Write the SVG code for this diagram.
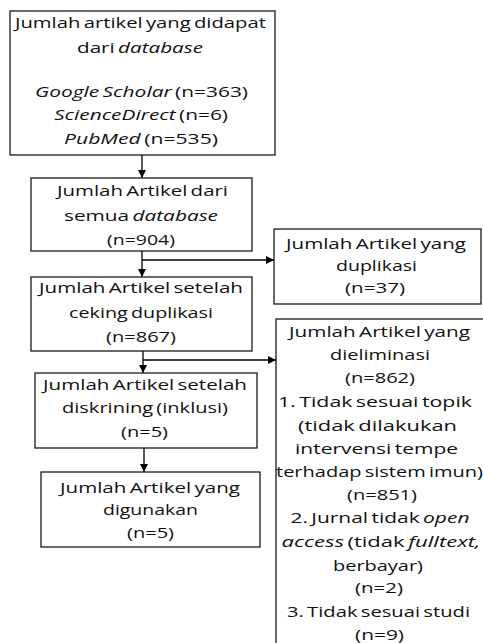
<svg xmlns="http://www.w3.org/2000/svg" width="483" height="643" viewBox="0 0 483 643">
<defs>
<marker id="ah" viewBox="0 0 10 10" refX="10" refY="5" markerWidth="8" markerHeight="8" markerUnits="userSpaceOnUse" orient="auto">
<path d="M0,0 L10,5 L0,10 z" fill="#000"/>
</marker>
</defs>
<style>
.box{fill:#fff;stroke:#1a1a1a;stroke-width:1.3}
.t{font-family:"Open Sans","DejaVu Sans",sans-serif;font-size:15px;fill:#111;text-anchor:middle;word-spacing:-1.5px}
.i{font-style:italic}
.ln{stroke:#000;stroke-width:1.3;fill:none}
</style>
<rect width="483" height="643" fill="#fff"/>
<g id="connectors">
<line class="ln" x1="142" y1="155" x2="142" y2="178" marker-end="url(#ah)"/>
<line class="ln" x1="142" y1="251" x2="142" y2="277" marker-end="url(#ah)"/>
<line class="ln" x1="142" y1="260" x2="274" y2="260" marker-end="url(#ah)"/>
<line class="ln" x1="143" y1="351" x2="143" y2="373" marker-end="url(#ah)"/>
<line class="ln" x1="143" y1="360" x2="276" y2="360" marker-end="url(#ah)"/>
<line class="ln" x1="144" y1="448" x2="144" y2="472" marker-end="url(#ah)"/>
</g>
<g id="node-database">
<rect class="box" x="10" y="11" width="265" height="144"/>
<text class="t" x="140.5" y="28" textLength="251" lengthAdjust="spacingAndGlyphs">Jumlah artikel yang didapat</text>
<text class="t" x="140" y="53" textLength="126" lengthAdjust="spacingAndGlyphs">dari <tspan class="i">database</tspan></text>
<text class="t" x="141.5" y="97" textLength="213" lengthAdjust="spacingAndGlyphs"><tspan class="i">Google Scholar</tspan> (n=363)</text>
<text class="t" x="141" y="120" textLength="174" lengthAdjust="spacingAndGlyphs"><tspan class="i">ScienceDirect</tspan>  (n=6)</text>
<text class="t" x="141" y="144" textLength="154" lengthAdjust="spacingAndGlyphs"><tspan class="i">PubMed</tspan> (n=535)</text>
</g>
<g id="node-semua">
<rect class="box" x="31" y="178" width="221" height="73"/>
<text class="t" x="142.5" y="196" textLength="171" lengthAdjust="spacingAndGlyphs">Jumlah Artikel dari</text>
<text class="t" x="141" y="221" textLength="154" lengthAdjust="spacingAndGlyphs">semua <tspan class="i">database</tspan></text>
<text class="t" x="141" y="245" textLength="68" lengthAdjust="spacingAndGlyphs">(n=904)</text>
</g>
<g id="node-duplikasi">
<rect class="box" x="274" y="229" width="207" height="75"/>
<text class="t" x="376" y="249" textLength="180" lengthAdjust="spacingAndGlyphs">Jumlah Artikel yang</text>
<text class="t" x="376.5" y="271" textLength="81" lengthAdjust="spacingAndGlyphs">duplikasi</text>
<text class="t" x="375" y="293" textLength="60" lengthAdjust="spacingAndGlyphs">(n=37)</text>
</g>
<g id="node-ceking">
<rect class="box" x="31" y="277" width="221" height="74"/>
<text class="t" x="141" y="293" textLength="204" lengthAdjust="spacingAndGlyphs">Jumlah Artikel setelah</text>
<text class="t" x="141" y="318" textLength="144" lengthAdjust="spacingAndGlyphs">ceking duplikasi</text>
<text class="t" x="141" y="342" textLength="70" lengthAdjust="spacingAndGlyphs">(n=867)</text>
</g>
<g id="node-eliminasi">
<rect class="box" x="276" y="319" width="210" height="330"/>
<text class="t" x="379.5" y="337" textLength="181" lengthAdjust="spacingAndGlyphs">Jumlah Artikel yang</text>
<text class="t" x="380" y="360" textLength="100" lengthAdjust="spacingAndGlyphs">dieliminasi</text>
<text class="t" x="380" y="383" textLength="70" lengthAdjust="spacingAndGlyphs">(n=862)</text>
<text class="t" x="375" y="407" textLength="194" lengthAdjust="spacingAndGlyphs">1. Tidak sesuai topik</text>
<text class="t" x="377.5" y="431" textLength="159" lengthAdjust="spacingAndGlyphs">(tidak dilakukan</text>
<text class="t" x="376.5" y="454" textLength="163" lengthAdjust="spacingAndGlyphs">intervensi tempe</text>
<text class="t" x="379.5" y="477" textLength="207" lengthAdjust="spacingAndGlyphs">terhadap sistem imun)</text>
<text class="t" x="382" y="500" textLength="70" lengthAdjust="spacingAndGlyphs">(n=851)</text>
<text class="t" x="380" y="523" textLength="179" lengthAdjust="spacingAndGlyphs">2. Jurnal tidak <tspan class="i">open</tspan></text>
<text class="t" x="381" y="547" textLength="199" lengthAdjust="spacingAndGlyphs"><tspan class="i">access</tspan> (tidak <tspan class="i">fulltext,</tspan></text>
<text class="t" x="378" y="571" textLength="90" lengthAdjust="spacingAndGlyphs">berbayar)</text>
<text class="t" x="379" y="593" textLength="48" lengthAdjust="spacingAndGlyphs">(n=2)</text>
<text class="t" x="378.5" y="617" textLength="183" lengthAdjust="spacingAndGlyphs">3. Tidak sesuai studi</text>
<text class="t" x="379.5" y="640" textLength="49" lengthAdjust="spacingAndGlyphs">(n=9)</text>
</g>
<g id="node-diskrining">
<rect class="box" x="35" y="373" width="222" height="75"/>
<text class="t" x="145" y="390" textLength="204" lengthAdjust="spacingAndGlyphs">Jumlah Artikel setelah</text>
<text class="t" x="145" y="413" textLength="166" lengthAdjust="spacingAndGlyphs">diskrining (inklusi)</text>
<text class="t" x="144.5" y="437" textLength="47" lengthAdjust="spacingAndGlyphs">(n=5)</text>
</g>
<g id="node-digunakan">
<rect class="box" x="41" y="472" width="219" height="75"/>
<text class="t" x="150" y="493" textLength="180" lengthAdjust="spacingAndGlyphs">Jumlah Artikel yang</text>
<text class="t" x="150.5" y="515" textLength="95" lengthAdjust="spacingAndGlyphs">digunakan</text>
<text class="t" x="150.5" y="538" textLength="47" lengthAdjust="spacingAndGlyphs">(n=5)</text>
</g>
</svg>
